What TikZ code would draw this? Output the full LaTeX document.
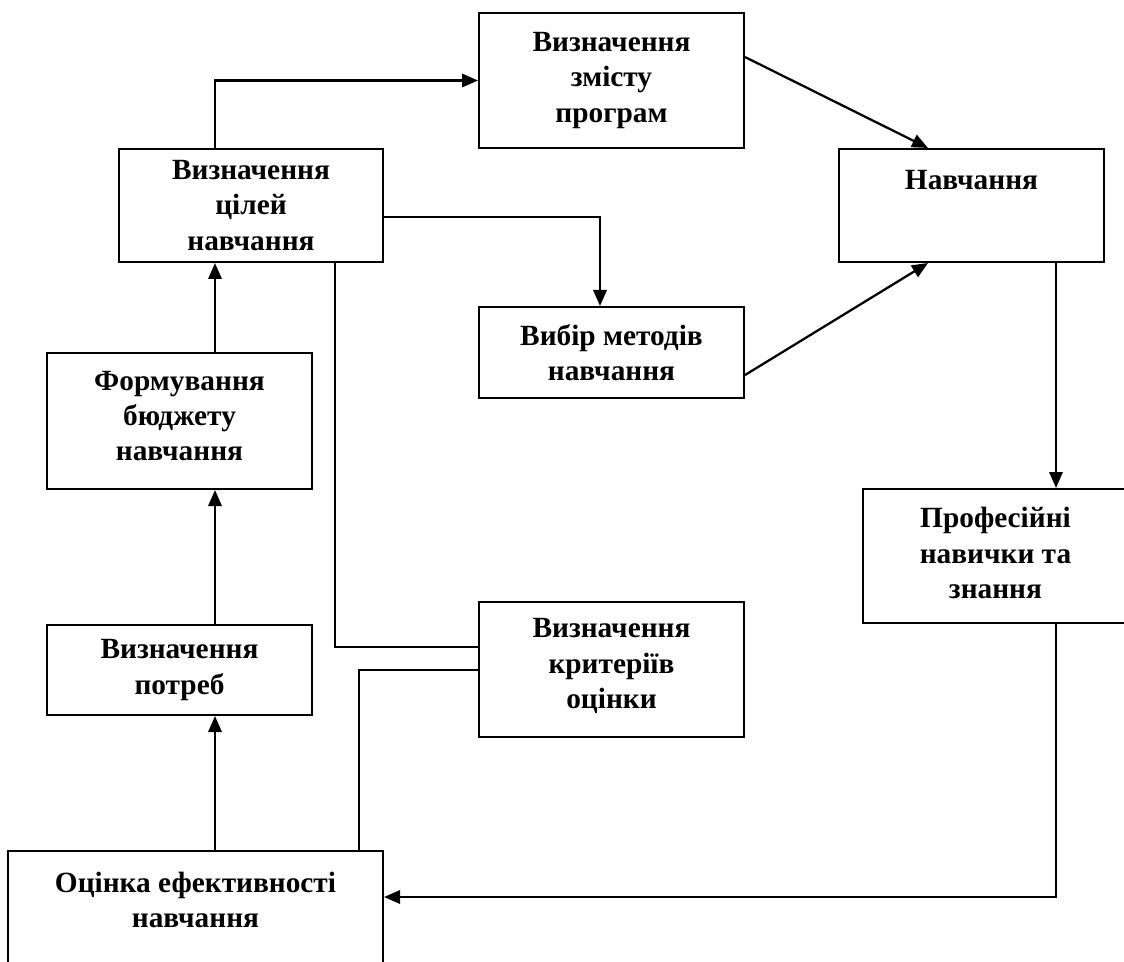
\documentclass[tikz,border=0pt]{standalone}
\usepackage{fontspec}
\setmainfont{Liberation Serif}
\usetikzlibrary{arrows.meta}
\begin{document}
\begin{tikzpicture}[x=0.75pt,y=-0.75pt,
  box/.style={draw=black, line width=1.5pt, inner sep=0pt, align=center,
    font=\fontsize{22pt}{26.5pt}\selectfont\bfseries},
  txt/.style={inner sep=0pt, align=center, font=\fontsize{22pt}{26.5pt}\selectfont\bfseries},
  bw/.style={minimum width=#1*0.75pt},
  bh/.style={minimum height=#1*0.75pt},
  conn/.style={draw=black, line width=1.7pt},
  arr/.style={conn, -{Triangle[length=12pt, width=10pt]}}]
\clip (0,0) rectangle (1124,962);
\fill[white] (0,0) rectangle (1124,962);

\node[box, bw=265, bh=135] (zmist) at (611.5,80.5) {Визначення\\змісту\\програм};
\node[box, bw=265, bh=113] (navch) at (971.5,205.5) {};
\node[txt] (navchT) at (971.5,180) {Навчання};
\node[box, bw=264, bh=113] (tsiley) at (251,205.5) {Визначення\\цілей\\навчання};
\node[box, bw=265, bh=91] (vybir) at (611.5,352.5) {Вибір методів\\навчання};
\node[box, bw=265, bh=136] (formuv) at (179.5,421) {};
\node[txt] (formuvT) at (179.5,416) {Формування\\бюджету\\навчання};
\node[box, bw=265, bh=90] (potreb) at (179.5,670) {Визначення\\потреб};
\node[box, bw=265, bh=134] (prof) at (995.5,556) {};
\node[txt] (profT) at (995.5,553) {Професійні\\навички та\\знання};
\node[box, bw=265, bh=135] (kryter) at (611.5,669.5) {};
\node[txt] (kryterT) at (611.5,666) {Визначення\\критеріїв\\оцінки};
\node[box, bw=375, bh=140] (otsinka) at (195.5,921) {};
\node[txt] (otsinkaT) at (195.5,900) {Оцінка ефективності\\навчання};

\coordinate (colL) at (215,0);
\coordinate (colM) at (335,647);
\coordinate (colN) at (359,670);
\coordinate (colV) at (600,217);
\coordinate (colR) at (1056,897);
\coordinate (nIn) at (928,0);

% left column
\draw[arr] (colL |- otsinka.north) -- (colL |- potreb.south);
\draw[arr] (colL |- potreb.north) -- (colL |- formuv.south);
\draw[arr] (colL |- formuv.north) -- (colL |- tsiley.south);
\draw[arr] (colL |- tsiley.north) |- (zmist.west);
% to methods
\draw[arr] (colV -| tsiley.east) -- (colV) -- (colV |- vybir.north);
% to training
\draw[arr] ([yshift=17.6pt]zmist.east) -- (nIn |- navch.north);
\draw[arr] ([yshift=-16.9pt]vybir.east) -- (nIn |- navch.south);
% right column
\draw[arr] (colR |- navch.south) -- (colR |- prof.north);
\draw[arr] (colR |- prof.south) -- (colR) -- (colR -| otsinka.east);
% criteria links
\draw[conn] (colM |- tsiley.south) -- (colM) -- (colM -| kryter.west);
\draw[conn] (colN -| kryter.west) -- (colN) -- (colN |- otsinka.north);
\end{tikzpicture}
\end{document}
